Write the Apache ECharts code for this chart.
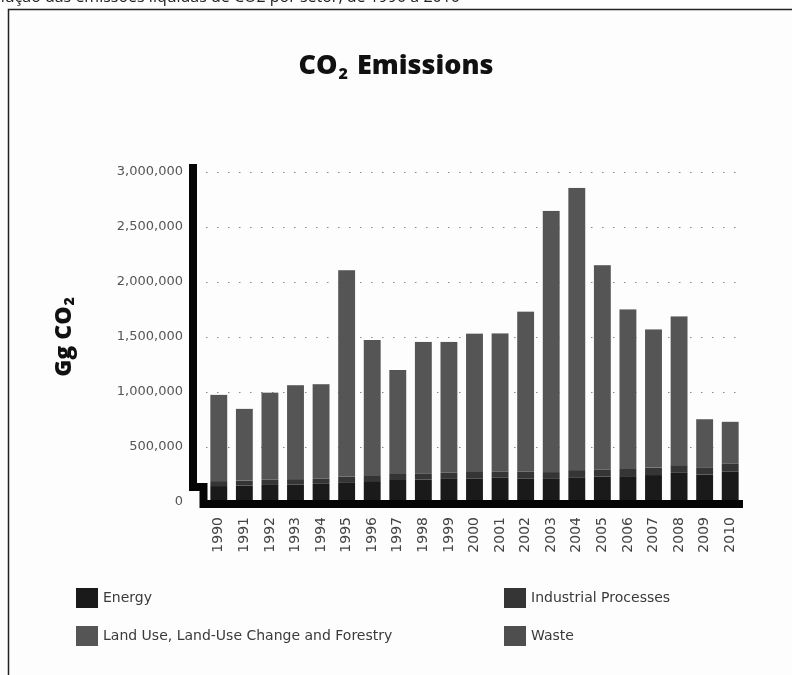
<!DOCTYPE html>
<html>
<head>
<meta charset="utf-8">
<script src="https://cdn.jsdelivr.net/npm/echarts@6/dist/echarts.min.js"></script>
<style>
  html, body { margin: 0; padding: 0; background: #fdfdfd; }
  #chart { width: 792px; height: 675px; }
</style>
</head>
<body>
<div id="chart"></div>
<script>
// Net CO2 emissions by sector, Gg CO2
const years = ['1990','1991','1992','1993','1994','1995','1996','1997','1998','1999','2000',
               '2001','2002','2003','2004','2005','2006','2007','2008','2009','2010'];

const energy = [145000,150000,155000,160000,165000,180000,190000,200000,205000,210000,215000,
                220000,215000,210000,225000,230000,235000,245000,265000,250000,275000];

const industrialProcesses = [45000,45000,47000,48000,50000,52000,54000,55000,56000,56000,58000,
                             58000,60000,62000,65000,64000,65000,68000,70000,60000,72000];

const landUse = [783000,651000,792000,853000,855000,1875000,1228000,944000,1193000,1188000,1256000,
                 1254000,1454000,2373000,2564000,1858000,1450000,1256000,1352000,442000,381000];

const waste = [1000,1000,1000,1000,1000,1000,1000,1000,1000,1000,1000,
               1000,1000,1000,1000,1000,1000,1000,1000,1000,1000];

const yTicks = { min: 0, max: 3000000, interval: 500000 };

const seriesNames = ['Energy', 'Industrial Processes', 'Land Use, Land-Use Change and Forestry', 'Waste'];
const seriesColors = ['#1a1a1a', '#353535', '#555555', '#4e4e4e'];
const legendColors = ['#242424', '#454545', '#6a6a6a', '#585858'];

const FONT = 'DejaVu Sans';
const chart = echarts.init(document.getElementById('chart'), null, { renderer: 'canvas' });

function fmt(v) {
  return v.toString().replace(/\B(?=(\d{3})+(?!\d))/g, ',');
}

const dataSets = [energy, industrialProcesses, landUse, waste];

const option = {
  backgroundColor: '#fdfdfd',
  animation: false,
  title: {
    text: '{a|CO}{b|2}{a| Emissions}',
    left: 'center',
    top: 46,
    textStyle: {
      rich: {
        a: { fontFamily: 'Open Sans', fontWeight: 800, fontSize: 27, color: '#111' },
        b: { fontFamily: 'Open Sans', fontWeight: 800, fontSize: 16, color: '#111', padding: [15, 2, 0, 1] }
      }
    }
  },
  legend: [
    {
      data: [seriesNames[0], seriesNames[2]],
      orient: 'vertical',
      left: 71, top: 583,
      itemWidth: 22, itemHeight: 20, itemGap: 18,
      icon: 'rect',
      textStyle: { fontFamily: FONT, fontSize: 14, color: '#3a3a3a' }
    },
    {
      data: [seriesNames[1], seriesNames[3]],
      orient: 'vertical',
      left: 499, top: 583,
      itemWidth: 22, itemHeight: 20, itemGap: 18,
      icon: 'rect',
      textStyle: { fontFamily: FONT, fontSize: 14, color: '#3a3a3a' }
    }
  ],
  grid: { left: 206, right: 49, top: 172, bottom: 173, containLabel: false },
  xAxis: {
    type: 'category',
    data: years,
    axisLine: { show: false },
    axisTick: { show: false },
    axisLabel: {
      rotate: 90,
      margin: 15,
      fontFamily: FONT,
      fontSize: 14,
      color: '#444'
    }
  },
  yAxis: {
    type: 'value',
    min: yTicks.min, max: yTicks.max, interval: yTicks.interval,
    offset: 13,
    axisLine: { show: false },
    axisTick: { show: false },
    axisLabel: {
      margin: 10,
      fontFamily: FONT,
      fontSize: 13,
      color: '#555',
      formatter: v => fmt(v)
    },
    splitLine: {
      show: true,
      lineStyle: { color: '#8a8a8a', width: 1.2, type: [1.5, 9.5] }
    }
  },
  series: seriesNames.map((name, i) => ({
    name,
    type: 'bar',
    stack: 'total',
    barWidth: '66%',
    data: dataSets[i],
    itemStyle: { color: seriesColors[i] },
    emphasis: { disabled: true }
  }))
};

chart.setOption(option);

// legend swatches use slightly lighter tones than the bars
chart.setOption({
  series: seriesNames.map((name, i) => ({ name, color: legendColors[i], itemStyle: { color: seriesColors[i] } }))
});

// Stepped axis frame, computed from the value axis positions
const zeroY = chart.convertToPixel({ yAxisIndex: 0 }, 0);
const topY = chart.convertToPixel({ yAxisIndex: 0 }, yTicks.max);
const gridLeft = 206, gridRight = 792 - 49;

chart.setOption({
  graphic: [
    {
      type: 'rect',
      shape: { x: 8.5, y: 9.5, width: 820, height: 700 },
      style: { fill: 'none', stroke: '#222', lineWidth: 1.5 },
      z: 0, silent: true
    },
    {
      type: 'text',
      style: {
        text: 'Evolução das emissões líquidas de CO2 por setor, de 1990 a 2010',
        x: 460, y: 5,
        align: 'right', verticalAlign: 'bottom',
        fontFamily: 'Open Sans', fontSize: 16, fill: '#222'
      },
      silent: true
    },
    {
      type: 'text',
      x: 64, y: 337,
      rotation: Math.PI / 2,
      style: {
        text: '{a|Gg CO}{b|2}',
        align: 'center', verticalAlign: 'middle',
        rich: {
          a: { fontFamily: 'Open Sans', fontWeight: 800, fontSize: 23, fill: '#111', color: '#111' },
          b: { fontFamily: 'Open Sans', fontWeight: 800, fontSize: 14, fill: '#111', color: '#111', padding: [13, 0, 0, 1] }
        }
      },
      silent: true
    },
    {
      type: 'polyline',
      z: 100,
      shape: {
        points: [
          [gridLeft - 13, topY - 8],
          [gridLeft - 13, zeroY - 15],
          [gridLeft - 2.5, zeroY - 15],
          [gridLeft - 2.5, zeroY + 2],
          [gridRight, zeroY + 2]
        ]
      },
      style: { stroke: '#050505', lineWidth: 8, fill: 'none', lineJoin: 'miter', lineCap: 'butt' },
      silent: true
    }
  ]
});
</script>
</body>
</html>
